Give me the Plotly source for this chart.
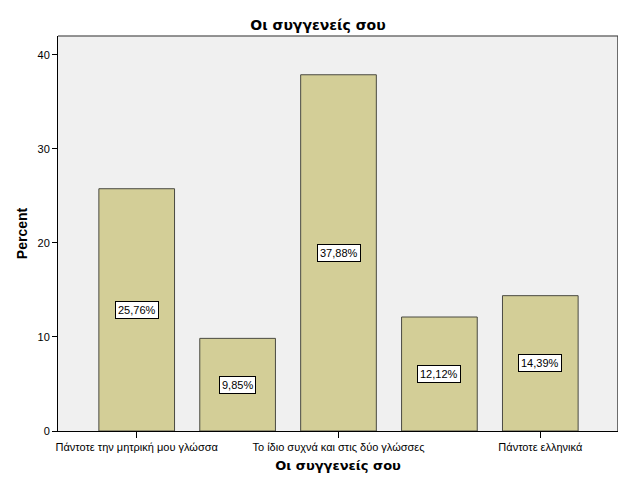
import plotly.graph_objects as go

categories = ["Πάντοτε την μητρική μου γλώσσα", "", "Το ίδιο συχνά και στις δύο γλώσσες", "", "Πάντοτε ελληνικά"]
percent = [25.76, 9.85, 37.88, 12.12, 14.39]
value_labels = ["25,76%", "9,85%", "37,88%", "12,12%", "14,39%"]
shown_ticks = [0, 2, 4]
y_ticks = [0, 10, 20, 30, 40]

positions = list(range(len(categories)))

fig = go.Figure()
fig.add_trace(go.Bar(
    x=positions, y=percent, width=0.75,
    marker=dict(color="#D3CE97", line=dict(color="#4a4a42", width=1)),
    hoverinfo="skip",
))

for p, v, lab in zip(positions, percent, value_labels):
    fig.add_annotation(
        x=p, y=v / 2, text=lab, showarrow=False,
        font=dict(family="Liberation Sans, Arial", size=11, color="black"),
        bgcolor="white", bordercolor="black", borderwidth=1, borderpad=2,
    )

fig.update_layout(
    width=612, height=485,
    margin=dict(l=50, r=2, t=28, b=62),
    paper_bgcolor="white", plot_bgcolor="#F0F0F0",
    showlegend=False,
    title=dict(text="<b>Οι συγγενείς σου</b>", xref="container", x=0.5065, xanchor="center",
               y=0.965, yanchor="middle",
               font=dict(family="DejaVu Sans, Verdana", size=14, color="black")),
    font=dict(family="Liberation Sans, Arial", size=11, color="black"),
)
fig.update_xaxes(
    range=[-0.78, 4.77], tickmode="array",
    tickvals=[positions[i] for i in shown_ticks],
    ticktext=[categories[i] for i in shown_ticks],
    ticks="outside", ticklen=6, tickcolor="black",
    showline=True, linecolor="black", linewidth=1, mirror=False,
    showgrid=False, zeroline=False,
    title=dict(text="<b>Οι συγγενείς σου</b>", standoff=8,
               font=dict(family="DejaVu Sans, Verdana", size=13, color="black")),
    tickfont=dict(family="Liberation Sans, Arial", size=11, color="black"),
)
fig.update_yaxes(
    range=[0, 42], tickmode="array", tickvals=y_ticks,
    ticks="outside", ticklen=5, tickcolor="black",
    showline=True, linecolor="black", linewidth=1,
    showgrid=False, zeroline=False,
    title=dict(text="<b>Percent</b>", standoff=6,
               font=dict(family="Liberation Sans, Arial", size=14, color="black")),
    tickfont=dict(family="Liberation Sans, Arial", size=11, color="black"),
)
# top and right frame lines of plot area
fig.add_shape(type="line", xref="paper", yref="paper", x0=0, x1=1, y0=1, y1=1,
              line=dict(color="#707070", width=1.5))
fig.add_shape(type="line", xref="paper", yref="paper", x0=1, x1=1, y0=0, y1=1,
              line=dict(color="#404040", width=1.5))

fig.write_html("out.html")
